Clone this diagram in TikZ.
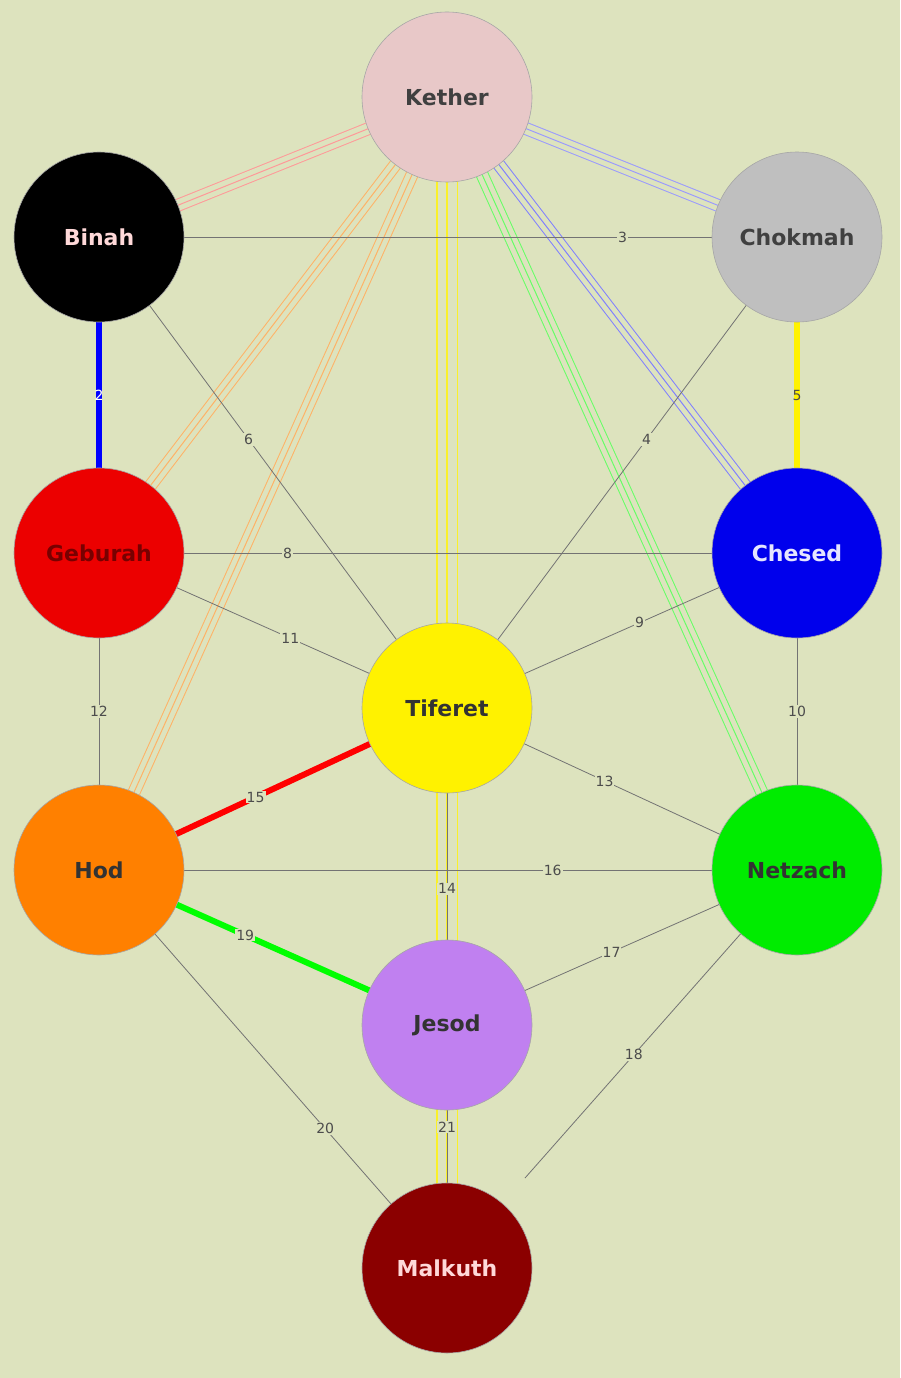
\documentclass[tikz,border=0pt]{standalone}
\usepackage{fontspec}
\setmainfont{DejaVu Sans}
\begin{document}
\begin{tikzpicture}[x=1pt,y=-1pt,
  sef/.style={circle,minimum size=170pt,inner sep=0pt,draw=gray!70,line width=0.6pt,font=\fontsize{22}{26}\selectfont\bfseries},
  path/.style={draw=black!55,line width=0.8pt},
  lab/.style={fill=bg,inner sep=1pt,font=\fontsize{14}{16}\selectfont,text=black!70},
  thick path/.style={line width=6pt}]
\definecolor{bg}{HTML}{DDE3BE}
\definecolor{ylw}{RGB}{250,240,40}
\fill[bg] (0,0) rectangle (900,1378);
\useasboundingbox (0,0) rectangle (900,1378);
\newcommand{\triline}[3]{%
  \draw[#1,line width=13pt] (#2) -- (#3);
  \draw[bg,line width=11pt] (#2) -- (#3);
  \draw[#1,line width=1pt] (#2) -- (#3);}
\coordinate (K) at (447,97);
\coordinate (B) at (99,237);
\coordinate (C) at (797,237);
\coordinate (G) at (99,553);
\coordinate (Ch) at (797,553);
\coordinate (T) at (447,708);
\coordinate (H) at (99,870);
\coordinate (N) at (797,870);
\coordinate (J) at (447,1025);
\coordinate (M) at (447,1268);
\coordinate (e18) at (525,1178);
% triple lines
\draw[ylw,line width=22pt] (K) -- (M);
\draw[bg,line width=19pt] (K) -- (M);
\draw[ylw,line width=1.5pt] (K) -- (M);
\triline{pink!80!red}{K}{B}
\triline{blue!40}{K}{C}
\triline{blue!50}{K}{Ch}
\triline{orange!60}{K}{G}
\triline{orange!60}{K}{H}
\triline{green!60}{K}{N}
% plain paths
\draw[path] (B) -- node[lab,pos=0.75]{3} (C);
\draw[path] (B) -- node[lab,pos=0.43]{6} (T);
\draw[path] (C) -- node[lab,pos=0.43]{4} (T);
\draw[path] (G) -- node[lab,pos=0.27]{8} (Ch);
\draw[path] (G) -- node[lab,pos=0.55]{11} (T);
\draw[path] (Ch) -- node[lab,pos=0.45]{9} (T);
\draw[path] (G) -- node[lab]{12} (H);
\draw[path] (Ch) -- node[lab]{10} (N);
\draw[path] (T) -- node[lab,pos=0.45]{13} (N);
\draw[path] (H) -- node[lab,pos=0.65]{16} (N);
\draw[path] (J) -- node[lab,pos=0.47]{17} (N);
\draw[path] (H) -- node[lab,pos=0.65]{20} (M);
\draw[path] (N) -- node[lab,pos=0.6]{18} (e18);
\draw[path] (T) -- node[lab,pos=0.57]{14} (J);
\draw[path] (J) -- node[lab,pos=0.42]{21} (M);
% thick paths
\draw[blue,thick path] (B) -- node[lab,fill=none,text=white]{2} (G);
\draw[yellow,thick path] (C) -- node[lab,fill=none]{5} (Ch);
\draw[red,thick path] (T) -- node[lab,pos=0.55]{15} (H);
\draw[green,thick path] (H) -- node[lab,pos=0.42]{19} (J);
% nodes
\node[sef,fill={rgb,255:red,232;green,200;blue,200},text=black!75] (kether) at (K) {Kether};
\node[sef,fill=black,text=pink!60] (binah) at (B) {Binah};
\node[sef,fill=gray!50,text=black!75] (chokmah) at (C) {Chokmah};
\node[sef,fill={rgb,255:red,236;green,0;blue,0},text={rgb,255:red,120;green,0;blue,0}] (geburah) at (G) {Geburah};
\node[sef,fill={rgb,255:red,0;green,0;blue,236},text=blue!10] (chesed) at (Ch) {Chesed};
\node[sef,fill=yellow,text=black!80] (tiferet) at (T) {Tiferet};
\node[sef,fill={rgb,255:red,255;green,128;blue,0},text=black!80] (hod) at (H) {Hod};
\node[sef,fill={rgb,255:red,0;green,236;blue,0},text=black!80] (netzach) at (N) {Netzach};
\node[sef,fill={rgb,255:red,192;green,128;blue,240},text=black!80] (jesod) at (J) {Jesod};
\node[sef,fill={rgb,255:red,139;green,0;blue,0},text=pink!60] (malkuth) at (M) {Malkuth};
\end{tikzpicture}
\end{document}
